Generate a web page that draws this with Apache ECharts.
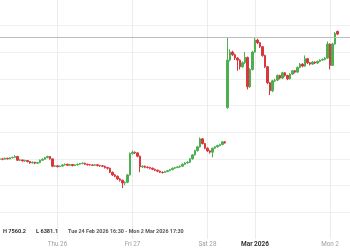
<!DOCTYPE html>
<html>
<head>
<meta charset="utf-8">
<script src="https://cdn.jsdelivr.net/npm/echarts@6/dist/echarts.min.js"></script>
<style>html,body{margin:0;padding:0;background:#fff}#c{width:350px;height:250px}</style>
</head>
<body>
<div id="c"></div>
<script>
// OHLC candles: [open, close, low, high]
const candles = [
[6598,6600,6592,6606],[6600,6598,6590,6604],[6598,6605,6595,6610],[6605,6600,6596,6608],
[6600,6608,6597,6612],[6608,6612,6603,6616],[6612,6618,6608,6628],[6618,6590,6585,6622],
[6590,6592,6584,6598],[6592,6585,6580,6595],[6585,6588,6578,6594],[6588,6580,6574,6591],
[6580,6570,6564,6584],[6570,6575,6566,6580],[6575,6568,6560,6578],[6568,6572,6562,6577],
[6572,6590,6568,6595],[6590,6598,6585,6603],[6598,6610,6594,6615],[6610,6618,6605,6624],
[6618,6600,6595,6622],[6600,6545,6538,6604],[6545,6548,6540,6553],[6548,6542,6536,6552],
[6542,6546,6538,6550],[6546,6555,6542,6560],[6555,6560,6550,6566],[6560,6552,6546,6564],
[6552,6558,6548,6563],[6558,6550,6544,6561],[6550,6555,6546,6560],[6555,6560,6550,6565],
[6560,6565,6556,6570],[6565,6568,6560,6574],[6568,6560,6555,6572],[6560,6556,6550,6564],
[6556,6555,6549,6560],[6555,6552,6546,6559],[6552,6556,6548,6561],[6556,6550,6544,6559],
[6550,6548,6540,6555],[6548,6545,6538,6553],[6545,6535,6528,6549],[6535,6530,6520,6540],
[6530,6500,6494,6534],[6500,6480,6472,6505],[6480,6470,6462,6486],[6470,6450,6442,6475],
[6450,6440,6430,6456],[6440,6420,6381.1,6445],[6420,6425,6405,6432],[6425,6480,6418,6486],
[6480,6640,6475,6648],[6640,6650,6632,6662],[6650,6645,6636,6656],[6645,6620,6612,6650],
[6620,6540,6500,6624],[6540,6545,6532,6552],[6545,6538,6530,6550],[6538,6535,6528,6543],
[6535,6530,6522,6540],[6530,6522,6515,6535],[6522,6515,6508,6527],[6515,6508,6500,6520],
[6508,6500,6494,6512],[6500,6498,6490,6506],[6498,6505,6494,6510],[6505,6512,6500,6517],
[6512,6520,6507,6525],[6520,6530,6515,6535],[6530,6535,6525,6540],[6535,6540,6530,6546],
[6540,6545,6534,6552],[6545,6560,6540,6565],[6560,6570,6555,6576],[6570,6575,6563,6582],
[6575,6600,6570,6606],[6600,6630,6595,6636],[6630,6662,6625,6668],[6662,6690,6655,6698],
[6690,6750,6685,6761],[6750,6715,6708,6756],[6715,6680,6672,6720],[6680,6660,6652,6686],
[6660,6650,6640,6665],[6650,6680,6611,6685],[6680,6690,6674,6696],[6690,6700,6684,6706],
[6700,6708,6694,6714],[6708,6728,6702,6732],[6728,6720,6714,6734],
[6985,7340,6975,7510],[7340,7400,7330,7420],[7400,7380,7370,7410],[7380,7355,7340,7388],
[7355,7340,7260,7362],[7340,7290,7270,7346],[7290,7320,7282,7330],[7320,7360,7310,7400],
[7360,7140,7120,7366],[7140,7270,7132,7280],[7270,7400,7262,7410],[7400,7490,7395,7512],
[7490,7470,7460,7500],[7470,7440,7430,7476],[7440,7375,7365,7446],[7375,7290,7280,7380],
[7290,7170,7160,7296],[7170,7110,7078,7176],[7110,7185,7100,7192],[7185,7190,7176,7200],
[7190,7225,7182,7232],[7225,7205,7196,7230],[7205,7245,7198,7252],[7245,7225,7216,7250],
[7225,7200,7190,7230],[7200,7235,7194,7242],[7235,7260,7228,7266],[7260,7250,7240,7266],
[7250,7285,7244,7292],[7285,7310,7278,7318],[7310,7295,7286,7316],[7295,7350,7290,7375],
[7350,7320,7310,7356],[7320,7310,7300,7326],[7310,7325,7304,7332],[7325,7318,7310,7330],
[7318,7330,7312,7336],[7330,7340,7324,7346],[7340,7345,7334,7352],[7345,7355,7338,7362],
[7355,7460,7350,7480],[7460,7300,7270,7466],[7300,7460,7295,7470],[7460,7540,7455,7550],
[7555,7535,7528,7560.2]
];
const categoryCount = 141;
const categories = Array.from({length: categoryCount}, (_, i) => String(i));
const tickLabels = ['Thu 26', 'Fri 27', 'Sat 28', 'Mar 2026', 'Mon 2'];
const tickIndex = [23, 53, 83, 102, 132];
const boldTicks = ['Mar 2026'];
const refLine = 7510;
const highText = 'H 7560.2';
const lowText = 'L 6381.1';
const rangeText = 'Tue 24 Feb 2026 16:30 - Mon 2 Mar 2026 17:30';

const chart = echarts.init(document.getElementById('c'), null, {renderer: 'canvas'});
chart.setOption({
  animation: false,
  backgroundColor: '#fff',
  title: {
    left: 3, top: 223, padding: 0,
    text: '{h|' + highText + '}  {h|' + lowText + '}  {n|' + rangeText + '}',
    textStyle: {
      rich: {
        h: {fontSize: 5.6, fontWeight: 'bold', color: '#333', fontFamily: 'Roboto'},
        n: {fontSize: 5.4, color: '#555', fontFamily: 'Roboto'}
      }
    }
  },
  grid: {left: 0, right: 0, top: 0, bottom: 11},
  xAxis: {
    type: 'category', data: categories, boundaryGap: false,
    axisLine: {show: false}, axisTick: {show: false},
    splitLine: {show: true, interval: (i) => tickIndex.includes(i), lineStyle: {color: '#ececec', width: 1}},
    axisLabel: {
      interval: (i) => tickIndex.includes(i),
      margin: 2, fontSize: 6.3, color: '#a0a0a0', fontFamily: 'Roboto',
      formatter: (v, i) => {
        const k = tickIndex.indexOf(Number(v));
        if (k < 0) return '';
        const t = tickLabels[k];
        return boldTicks.includes(t) ? '{b|' + t + '}' : t;
      },
      rich: {b: {fontSize: 6.5, fontWeight: 'bold', color: '#333', fontFamily: 'Roboto'}}
    }
  },
  yAxis: {
    type: 'value', min: 6000, max: 7790, interval: 200, scale: true,
    axisLabel: {show: false}, axisLine: {show: false}, axisTick: {show: false},
    splitLine: {show: true, showMinLine: false, showMaxLine: false, lineStyle: {color: '#f0f0f0', width: 1}}
  },
  series: [{
    type: 'candlestick',
    data: candles,
    barWidth: 1.8,
    itemStyle: {
      color: '#4caf50', color0: '#d9363e',
      borderColor: '#4caf50', borderColor0: '#d9363e', borderWidth: 1
    },
    markLine: {
      silent: true, symbol: 'none', label: {show: false},
      lineStyle: {color: '#bdbdbd', type: 'solid', width: 1},
      data: [{yAxis: refLine}]
    }
  }]
});
</script>
</body>
</html>
